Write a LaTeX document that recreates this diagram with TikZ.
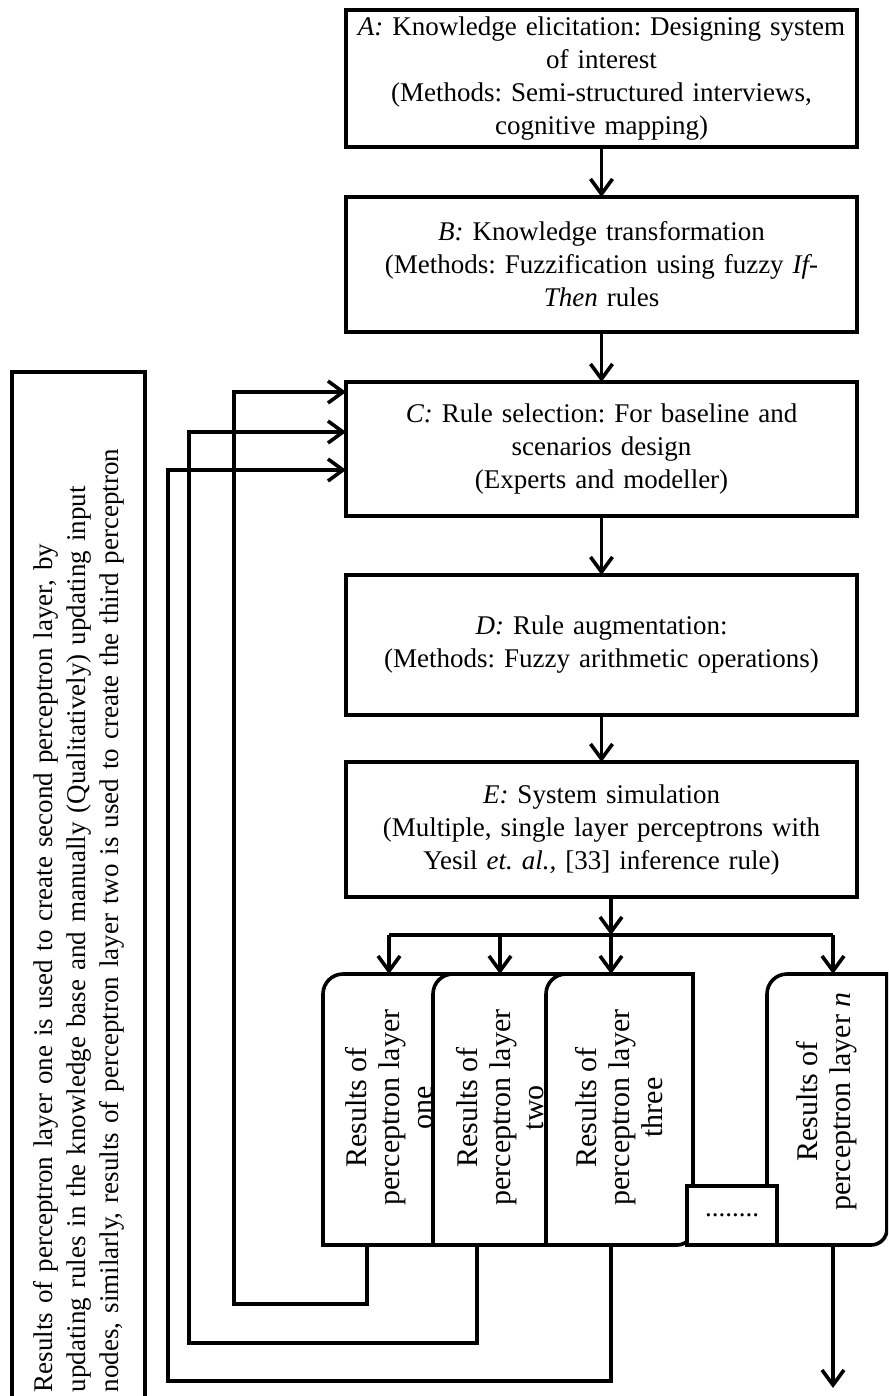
\documentclass[tikz,border=0pt]{standalone}
\usepackage{fontspec}
\setmainfont{Liberation Serif}
\usetikzlibrary{positioning,arrows.meta}
\frenchspacing

\tikzset{
  stage/.style={draw, line width=2.2pt, minimum width=255.5pt, text width=250pt,
    align=center, inner sep=0pt, outer sep=0pt},
  link/.style={line width=1.8pt, -{Straight Barb[length=7.5pt,width=11pt]}},
  wire/.style={line width=1.8pt},
  layer/.style={minimum height=135.5pt, inner sep=0pt, outer sep=0pt},
  layerline/.style={line width=1.8pt, fill=white},
  layertext/.style={rotate=90, align=center, font=\fontsize{15}{16.5}\selectfont},
  note/.style={draw, line width=2.2pt, rotate=90, minimum width=514pt, minimum height=66.5pt,
    text width=506pt, inner xsep=4pt, align=left},
}

\begin{document}
\begin{tikzpicture}[x=0.5pt, y=-0.5pt, font=\fontsize{13.5}{16.5}\selectfont]
  \useasboundingbox (0,0) rectangle (888,1396);
  \clip (0,0) rectangle (888,1396);

  % stages A to E
  \node[stage, minimum height=68.5pt] (A) at (601.5,78.5)
    {\textit{A:} Knowledge elicitation: Designing system\\ of interest\\
     (Methods: Semi-structured interviews,\\ cognitive mapping)};
  \node[stage, minimum height=67.5pt, below=25pt of A] (B)
    {\textit{B:} Knowledge transformation\\
     (Methods: Fuzzification using fuzzy \textit{If-}\\ \textit{Then} rules};
  \node[stage, minimum height=67pt, below=25pt of B] (C)
    {\textit{C:} Rule selection: For baseline and\\ scenarios design\\ (Experts and modeller)};
  \node[stage, minimum height=70pt, below=29.5pt of C] (D)
    {\textit{D:} Rule augmentation:\\ (Methods: Fuzzy arithmetic operations)};
  \node[stage, minimum height=67.5pt, below=23.5pt of D] (E)
    {\textit{E:} System simulation\\ (Multiple, single layer perceptrons with\\
     Yesil \textit{et. al.,} [33] inference rule)};

  \draw[link] (A) -- (B);
  \draw[link] (B) -- (C);
  \draw[link] (C) -- (D);
  \draw[link] (D) -- (E);

  % perceptron layers
  \node[layer, minimum width=66pt] (p1) at (389,1109.5) {};
  \node[layer, minimum width=67pt] (p2) at (500,1109.5) {};
  \node[layer, minimum width=73.5pt] (p3) at (619.5,1109.5) {};
  \node[layer, minimum width=60pt] (pn) at (827,1109.5) {};

  \draw[layerline] (p1.south east) -- (p1.south west) -- ([yshift=-10pt]p1.north west)
    arc[start angle=180, end angle=90, radius=10pt] -- (p1.north east) -- cycle;
  \node[layertext, xshift=1pt] (t1) at (p1) {Results of\\ perceptron layer\\ one};
  \draw[layerline] (p2.south east) -- (p2.south west) -- ([yshift=-10pt]p2.north west)
    arc[start angle=180, end angle=90, radius=10pt] -- (p2.north east) -- cycle;
  \node[layertext, xshift=1pt] (t2) at (p2) {Results of\\ perceptron layer\\ two};
  \draw[layerline] (p3.north east) -- ([yshift=8pt]p3.south east)
    arc[start angle=0, end angle=-90, radius=8pt] -- (p3.south west)
    -- ([yshift=-10pt]p3.north west) arc[start angle=180, end angle=90, radius=10pt] -- cycle;
  \node[layertext, xshift=1pt] (t3) at (p3) {Results of\\ perceptron layer\\ three};
  \draw[layerline] (pn.north east) -- ([yshift=8pt]pn.south east)
    arc[start angle=0, end angle=-90, radius=8pt] -- (pn.south west)
    -- ([yshift=-10pt]pn.north west) arc[start angle=180, end angle=90, radius=10pt] -- cycle;
  \node[layertext, xshift=4pt] (tn) at (pn) {Results of\\ perceptron layer \textit{n}};

  \node[draw, line width=1.8pt, fill=white, minimum width=45pt, minimum height=29.5pt,
    inner sep=0pt] (dots) at (732,1215.5) {........};

  % fan out from E
  \coordinate (split) at (611,935);
  \draw[link] (E.south -| split) -- (split);
  \draw[wire] (p1.north |- split) -- ([xshift=3pt]pn.north |- split);
  \draw[link] (p1.north |- split) -- (p1.north);
  \draw[link] (p2.north |- split) -- (p2.north);
  \draw[link] ([xshift=-4.25pt]p3.north |- split) -- ([xshift=-4.25pt]p3.north);
  \draw[link] ([xshift=3pt]pn.north |- split) -- ([xshift=3pt]pn.north);

  % feedback to C
  \coordinate (fb1) at (234,1304);
  \coordinate (fb2) at (189,1343);
  \coordinate (fb3) at (168,1381);
  \draw[link] ([xshift=-11pt]p1.south) |- (fb1) |- ([yshift=-5pt]C.north west);
  \draw[link] ([xshift=-11.5pt]p2.south) |- (fb2) |- ([yshift=-25pt]C.north west);
  \draw[link] ([xshift=-4.25pt]p3.south) |- (fb3) |- ([yshift=-44pt]C.north west);

  % output
  \coordinate (out) at (833,1388);
  \draw[link] ([xshift=3pt]pn.south) -- (out);

  \node[note] (remark) at (78.5,886)
    {Results of perceptron layer one is used to create second perceptron layer, by\\
     updating rules in the knowledge base and manually (Qualitatively) updating input\\
     nodes, similarly, results of perceptron layer two is used to create the third perceptron};
\end{tikzpicture}
\end{document}
